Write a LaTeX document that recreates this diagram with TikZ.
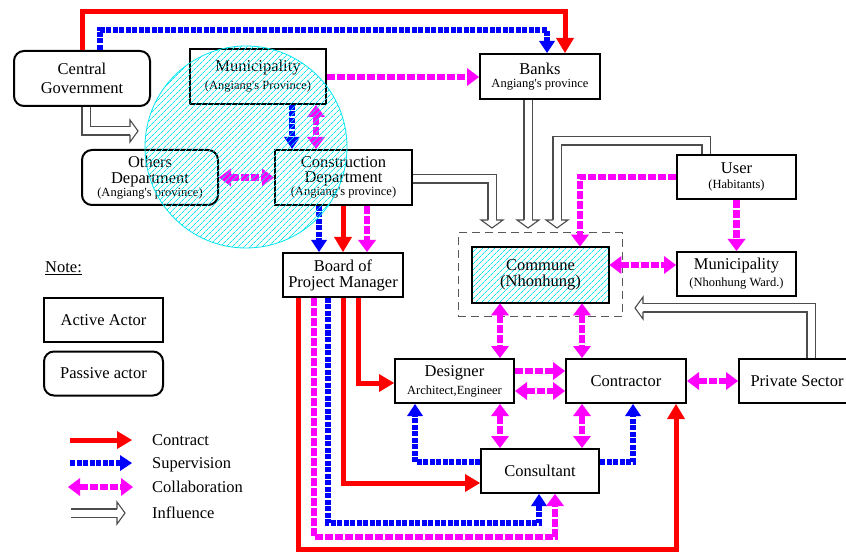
\documentclass[tikz,border=0pt]{standalone}
\usepackage{fontspec}
\setmainfont{Liberation Serif}
\usetikzlibrary{arrows.meta,patterns.meta,calc}
\definecolor{cred}{RGB}{255,0,0}
\definecolor{cblue}{RGB}{0,0,255}
\definecolor{cmag}{RGB}{255,0,255}
\definecolor{ccyan}{RGB}{0,230,240}
\newcommand\mainsz{\fontsize{16.5}{17}\selectfont}
\newcommand\subsz{\fontsize{12.5}{14}\selectfont}
\newcommand\apo{\textquotesingle}
\tikzset{
 actor/.style={draw, line width=2pt, align=center, inner sep=0pt, font=\mainsz},
 passive/.style={actor, rounded corners=10pt},
 contract/.style={draw=cred, line width=5pt, -{Triangle[length=15pt,width=18pt,line width=0pt]}},
 superv/.style={draw=cblue, line width=5.5pt, dash pattern=on 5pt off 1.5pt, -{Triangle[length=12pt,width=16pt,line width=0pt]}},
 collab/.style={draw=cmag, line width=6.5pt, dash pattern=on 8pt off 2pt},
 cone/.style={collab, -{Triangle[length=12pt,width=18pt,line width=0pt]}},
 ctwo/.style={collab, {Triangle[length=12pt,width=18pt,line width=0pt]}-{Triangle[length=12pt,width=18pt,line width=0pt]}},
 infl/.style={draw=black!70, line width=1.1pt, double=white, double distance=7pt, shorten >=8pt},
 hhead/.pic={
   \fill[white] (-8,-11) -- (0,0) -- (-8,11) -- cycle;
   \draw[black!70, line width=1.1pt, line join=miter] (-8,-4) -- (-8,-11) -- (0,0) -- (-8,11) -- (-8,4);
 },
 hatch/.style={pattern={Lines[angle=45,distance=4pt,line width=0.8pt]}, pattern color=ccyan}
}
\begin{document}
\begin{tikzpicture}[x=1pt,y=-1pt]
\useasboundingbox (0,0) rectangle (846,553);

% nodes
\node[passive, minimum width=136pt, minimum height=55pt, font=\fontsize{16.5}{19}\selectfont] (cg) at (82,78.5) {Central\\Government};
\node[actor, minimum width=136pt, minimum height=55pt, font=\fontsize{16.5}{18}\selectfont] (munA) at (258,76.5) {Municipality\\{\subsz (Angiang\apo s Province)}};
\node[passive, minimum width=136pt, minimum height=55pt, font=\fontsize{16.5}{15.5}\selectfont] (others) at (150,177.5) {Others\\Department\\[-2.5pt]{\subsz (Angiang\apo s province)}};
\node[actor, minimum width=137pt, minimum height=55pt, font=\fontsize{16.5}{15.5}\selectfont] (cons) at (343.5,177.5) {Construction\\Department\\[-2.5pt]{\subsz (Angiang\apo s province)}};
\node[actor, minimum width=120pt, minimum height=45pt, font=\fontsize{16.5}{13}\selectfont] (banks) at (540,76.5) {Banks\\{\subsz Angiang\apo s province}};
\node[actor, minimum width=119pt, minimum height=44pt, font=\fontsize{16.5}{15}\selectfont] (user) at (736.5,177) {User\\{\subsz (Habitants)}};
\node[draw=black!65, line width=1pt, dash pattern=on 8pt off 5pt, minimum width=164pt, minimum height=84pt] (cbox) at (540,275) {};
\node[actor, hatch, minimum width=137pt, minimum height=56pt, font=\fontsize{16.5}{16}\selectfont] (commune) at (540.5,275) {Commune\\(Nhonhung)};
\node[actor, minimum width=119pt, minimum height=44pt, font=\fontsize{16.5}{17}\selectfont] (munN) at (736.5,274) {Municipality\\{\subsz (Nhonhung Ward.)}};
\node[actor, minimum width=120pt, minimum height=44pt, font=\fontsize{16.5}{16}\selectfont] (board) at (343,275) {Board of\\Project Manager};
\node[actor, minimum width=119pt, minimum height=44pt, font=\fontsize{16.5}{18}\selectfont] (designer) at (454.5,381) {Designer\\{\subsz Architect,Engineer}};
\node[actor, minimum width=120pt, minimum height=44pt] (contractor) at (626,381) {Contractor};
\node[actor, minimum width=116pt, minimum height=44pt] (private) at (797,381) {Private Sector};
\node[actor, minimum width=118pt, minimum height=44pt] (consultant) at (540,471) {Consultant};

% legend
\node[anchor=base west, inner sep=0pt, font=\mainsz] (note) at (45,273) {\underline{Note:}};
\node[actor, minimum width=119pt, minimum height=44pt] (lact) at (103.5,320) {Active Actor};
\node[passive, minimum width=119pt, minimum height=44pt] (lpas) at (103.5,373.5) {Passive actor};
\coordinate (lc1) at (70,440); \coordinate (lc2) at (132,440);
\coordinate (ls1) at (70,463); \coordinate (ls2) at (132,463);
\coordinate (lb1) at (68,487); \coordinate (lb2) at (133,487);
\coordinate (li1) at (71,513); \coordinate (li2) at (125,513);
\draw[contract] (lc1) -- (lc2);
\draw[superv] (ls1) -- (ls2);
\draw[ctwo] (lb1) -- (lb2);
\draw[infl] (li1) -- (li2); \pic at (li2) {hhead};
\node[anchor=base west, inner sep=0pt, font=\mainsz] (tc) at (152,445.5) {Contract};
\node[anchor=base west, inner sep=0pt, font=\mainsz] (ts) at (152,468.5) {Supervision};
\node[anchor=base west, inner sep=0pt, font=\mainsz] (tb) at (152,492.5) {Collaboration};
\node[anchor=base west, inner sep=0pt, font=\mainsz] (ti) at (152,518.5) {Influence};

% influence
\coordinate (i1end) at (138,131);
\coordinate (i2end) at (492,228);
\coordinate (i3end) at (528,228);
\coordinate (i4end) at (557,228);
\coordinate (i5end) at (635,308);
\draw[infl] (cg.south -| 86,0) -- (86,131) -- (i1end); \pic at (i1end) {hhead};
\draw[infl] (cons.east |- 0,179) -- (492,179) -- (i2end); \pic[rotate=-90] at (i2end) {hhead};
\draw[infl] (banks.south -| 528,0) -- (i3end); \pic[rotate=-90] at (i3end) {hhead};
\draw[infl] (user.north -| 706,0) -- (706,141) -- (557,141) -- (i4end); \pic[rotate=-90] at (i4end) {hhead};
\draw[infl] (private.north -| 811,0) -- (811,308) -- (i5end); \pic[rotate=180] at (i5end) {hhead};

% contract
\draw[contract] (cg.north -| 82,0) -- (82,12) -| (banks.north -| 565,0);
\draw[contract] (cons.south -| 343,0) -- (board.north -| 343,0);
\draw[contract] (board.south -| 358,0) |- (designer.west |- 0,383);
\draw[contract] (board.south -| 343,0) |- (consultant.west |- 0,483);
\draw[contract] (board.south -| 298,0) -- (298,549) -| (contractor.south -| 676,0);

% supervision
\draw[superv] (cg.north -| 100,0) -- (100,30) -| (banks.north -| 547,0);
\draw[superv] (munA.south -| 292,0) -- (cons.north -| 292,0);
\draw[superv] (cons.south -| 319,0) -- (board.north -| 319,0);
\draw[superv] (board.south -| 328,0) -- (328,523) -| (consultant.south -| 539,0);
\draw[superv] (consultant.west |- 0,462) -| (designer.south -| 415,0);
\draw[superv] (consultant.east |- 0,462) -| (contractor.south -| 633,0);

% collaboration
\draw[cone] (munA.east |- 0,77) -- (banks.west |- 0,77);
\draw[ctwo] (munA.south -| 316,0) -- (cons.north -| 316,0);
\draw[ctwo] (others.east) -- (cons.west);
\draw[cone] (cons.south -| 367,0) -- (board.north -| 367,0);
\draw[cone] (board.south -| 314,0) -- (314,537) -| (consultant.south -| 555,0);
\draw[cone] (user.west) -| (commune.north -| 580,0);
\draw[cone] (user.south) -- (munN.north);
\draw[ctwo] (commune.east |- 0,265) -- (munN.west |- 0,265);
\draw[ctwo] (commune.south -| 500,0) -- (designer.north -| 500,0);
\draw[ctwo] (commune.south -| 582,0) -- (contractor.north -| 582,0);
\draw[cone] (designer.east |- 0,371) -- (contractor.west |- 0,371);
\draw[ctwo] (designer.east |- 0,391) -- (contractor.west |- 0,391);
\draw[ctwo] (contractor.east) -- (private.west);
\draw[ctwo] (designer.south -| 500,0) -- (consultant.north -| 500,0);
\draw[ctwo] (contractor.south -| 582,0) -- (consultant.north -| 582,0);

% highlighted zone
\draw[ccyan, line width=0.8pt, hatch] (246,147) circle[radius=101];
\end{tikzpicture}
\end{document}
